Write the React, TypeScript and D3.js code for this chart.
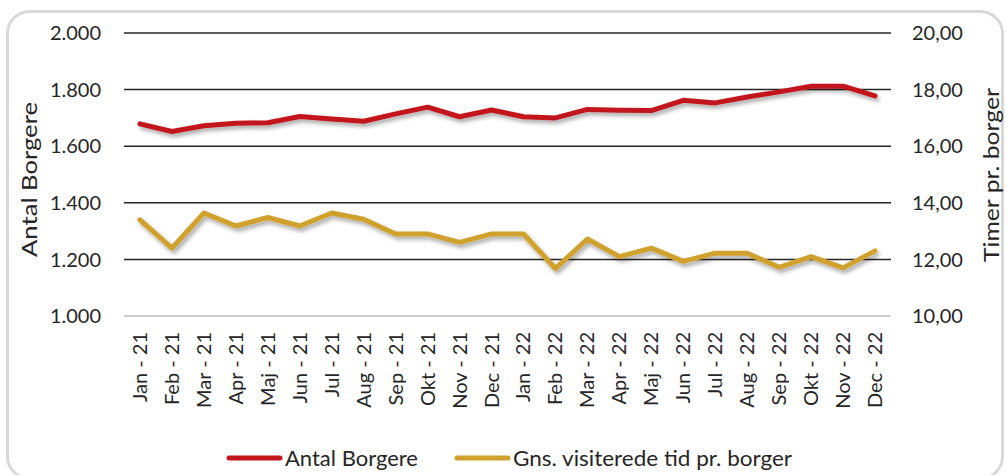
import React from "react";
import * as d3 from "d3";

const months = ["Jan", "Feb", "Mar", "Apr", "Maj", "Jun", "Jul", "Aug", "Sep", "Okt", "Nov", "Dec"];
const categories = [
  ...months.map((m) => `${m} - 21`),
  ...months.map((m) => `${m} - 22`),
];
const antalBorgere = [
  1679, 1652, 1672, 1681, 1683, 1705, 1696, 1688, 1714, 1738, 1704, 1728,
  1704, 1700, 1730, 1727, 1726, 1762, 1753, 1774, 1792, 1812, 1812, 1778,
];
const timerPrBorger = [
  13.4, 12.4, 13.64, 13.18, 13.48, 13.18, 13.64, 13.42, 12.9, 12.9, 12.6, 12.9,
  12.9, 11.68, 12.72, 12.1, 12.4, 11.93, 12.22, 12.22, 11.72, 12.1, 11.7, 12.3,
];
const leftTicks = [1000, 1200, 1400, 1600, 1800, 2000];
const rightTicks = [10, 12, 14, 16, 18, 20];

const W = 1007;
const H = 475;
const FONT = "Lato, 'Open Sans', sans-serif";

export default function App() {
  const left = 124;
  const right = 891;
  const top = 33;
  const bottom = 316;
  const x = d3.scaleBand<string>().domain(categories).range([left, right]);
  const xc = (c: string) => (x(c) as number) + x.bandwidth() / 2;
  const yL = d3.scaleLinear().domain([1000, 2000]).range([bottom, top]);
  const yR = d3.scaleLinear().domain([10, 20]).range([bottom, top]);
  const fmtL = (v: number) => d3.format(",")(v).replace(/,/g, ".");
  const fmtR = (v: number) => v.toFixed(2).replace(".", ",");

  const lineL = d3
    .line<number>()
    .x((_, i) => xc(categories[i]))
    .y((d) => yL(d));
  const lineR = d3
    .line<number>()
    .x((_, i) => xc(categories[i]))
    .y((d) => yR(d));

  const red = "#C3161C";
  const gold = "#D1A12E";
  const txt = "#262626";

  return (
    <svg
      width={W}
      height={H}
      style={{ position: "absolute", left: 0, top: 0, display: "block" }}
      fontFamily={FONT}
    >
      <defs>
        <filter id="sh" x="-5%" y="-50%" width="110%" height="200%">
          <feDropShadow dx="2" dy="3" stdDeviation="2.2" floodColor="#000" floodOpacity="0.35" />
        </filter>
      </defs>
      <rect x={0} y={0} width={W} height={H} fill="#fff" />
      <rect x={7.5} y={11.5} width={995} height={467} rx={22} fill="#fff" stroke="#d9d9d9" strokeWidth={3} />

      {leftTicks.map((t) => (
        <line
          key={t}
          x1={left}
          x2={right}
          y1={yL(t)}
          y2={yL(t)}
          stroke={t === 1000 ? "#bfbfbf" : "#262626"}
          strokeWidth={1.5}
        />
      ))}
      {leftTicks.map((t) => (
        <text key={t} x={101} y={yL(t)} dy="0.36em" textAnchor="end" fontSize={20} fill={txt}>
          {fmtL(t)}
        </text>
      ))}
      {rightTicks.map((t) => (
        <text key={t} x={912} y={yR(t)} dy="0.36em" textAnchor="start" fontSize={20} fill={txt}>
          {fmtR(t)}
        </text>
      ))}
      <text
        transform={`translate(37,${179.5}) rotate(-90)`}
        textAnchor="middle"
        fontSize={22}
        fill={txt}
        textLength={155}
        lengthAdjust="spacingAndGlyphs"
      >
        Antal Borgere
      </text>
      <text
        transform={`translate(999,${175}) rotate(-90)`}
        textAnchor="middle"
        fontSize={22}
        fill={txt}
        textLength={174}
        lengthAdjust="spacingAndGlyphs"
      >
        Timer pr. borger
      </text>
      {categories.map((c) => (
        <text
          key={c}
          transform={`translate(${xc(c) + 7},${bottom + 16}) rotate(-90)`}
          textAnchor="end"
          fontSize={20}
          fill={txt}
        >
          {c}
        </text>
      ))}

      <path d={lineL(antalBorgere) || ""} fill="none" stroke={red} strokeWidth={5} strokeLinejoin="round" strokeLinecap="round" filter="url(#sh)" />
      <path d={lineR(timerPrBorger) || ""} fill="none" stroke={gold} strokeWidth={5} strokeLinejoin="round" strokeLinecap="round" filter="url(#sh)" />

      <line x1={229} x2={280} y1={458} y2={458} stroke={red} strokeWidth={5} strokeLinecap="round" />
      <text x={285} y={458} dy="0.36em" fontSize={21} fill={txt} textLength={133} lengthAdjust="spacingAndGlyphs">Antal Borgere</text>
      <line x1={457} x2={508} y1={458} y2={458} stroke={gold} strokeWidth={5} strokeLinecap="round" />
      <text x={513} y={458} dy="0.36em" fontSize={21} fill={txt} textLength={279} lengthAdjust="spacingAndGlyphs">Gns. visiterede tid pr. borger</text>
    </svg>
  );
}
